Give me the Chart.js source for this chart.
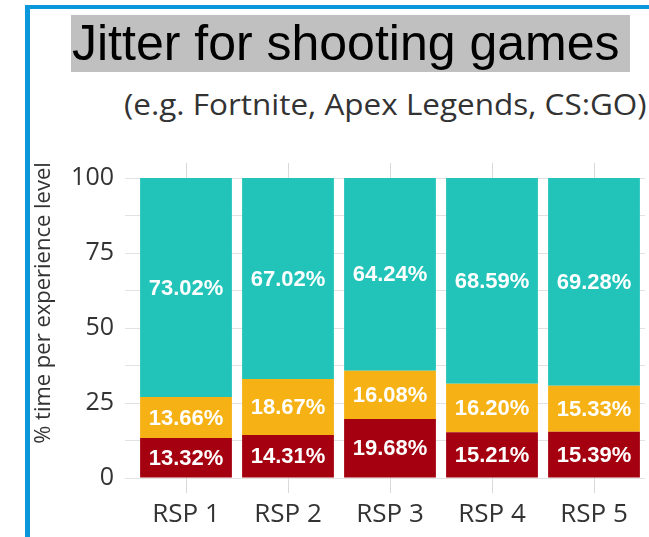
<!DOCTYPE html>
<html>
<head>
<meta charset="utf-8">
<script src="https://cdn.jsdelivr.net/npm/chart.js@4"></script>
<style>
  html, body { margin: 0; padding: 0; background: #fff; overflow: hidden; }
  #wrap { position: relative; width: 649px; height: 537px; overflow: hidden; }
  #frame { position: absolute; left: 25px; top: 5px; width: 700px; height: 600px;
           border-left: 5px solid #0a97db; border-top: 4px solid #0a97db; }
  #title { position: absolute; left: 71px; top: 15px; width: 558px; height: 57px;
           background: #c0c0c0; font-family: "Liberation Sans", Arial, sans-serif;
           font-size: 50px; line-height: 57px; color: #000; padding-left: 1px; white-space: nowrap; }
  #subtitle { position: absolute; left: 124px; top: 84px; font-family: "Open Sans", sans-serif;
              font-size: 29px; color: #333; white-space: nowrap;
              transform: scaleX(1.085); transform-origin: left top; }
  canvas { position: absolute; left: 0; top: 0; }
</style>
</head>
<body>
<div id="wrap">
  <div id="frame"></div>
  <div id="title">Jitter for shooting games</div>
  <div id="subtitle">(e.g. Fortnite, Apex Legends, CS:GO)</div>
  <canvas id="chartjs-0" width="649" height="537"></canvas>
</div>
<script>
"use strict";

var categories = ["RSP 1", "RSP 2", "RSP 3", "RSP 4", "RSP 5"];
var redValues = [13.32, 14.31, 19.68, 15.21, 15.39];
var orangeValues = [13.66, 18.67, 16.08, 16.20, 15.33];
var tealValues = [73.02, 67.02, 64.24, 68.59, 69.28];
var yTicks = [0, 12.5, 25, 37.5, 50, 62.5, 75, 87.5, 100];
var yTitle = "% time per experience level";

/* white percentage labels in the middle of each segment */
var segmentLabels = {
  id: "segmentLabels",
  afterDatasetsDraw: function (chart) {
    var ctx = chart.ctx;
    ctx.save();
    ctx.font = "bold 22px 'Liberation Sans', Arial, sans-serif";
    ctx.fillStyle = "#ffffff";
    ctx.textAlign = "center";
    ctx.textBaseline = "middle";
    chart.data.datasets.forEach(function (ds, i) {
      var meta = chart.getDatasetMeta(i);
      meta.data.forEach(function (bar, j) {
        var y = (bar.y + bar.base) / 2 + 1;
        ctx.fillText(ds.data[j].toFixed(2) + "%", bar.x, y);
      });
    });
    ctx.restore();
  }
};

/* rotated y axis title */
var axisTitle = {
  id: "axisTitle",
  afterDraw: function (chart) {
    var ctx = chart.ctx;
    ctx.save();
    ctx.translate(44, 303);
    ctx.rotate(-Math.PI / 2);
    ctx.font = "22px 'Open Sans', sans-serif";
    ctx.fillStyle = "#333";
    ctx.textAlign = "center";
    ctx.textBaseline = "middle";
    ctx.fillText(yTitle, 0, 0);
    ctx.restore();
  }
};

var ctx0 = document.getElementById("chartjs-0");
var myChart = new Chart(ctx0, {
  type: "bar",
  data: {
    labels: categories,
    datasets: [
      { label: "red", data: redValues, backgroundColor: "#a5000f" },
      { label: "orange", data: orangeValues, backgroundColor: "#f6b214" },
      { label: "teal", data: tealValues, backgroundColor: "#22c4b9" }
    ]
  },
  options: {
    responsive: false,
    devicePixelRatio: 1,
    animation: false,
    events: [],
    layout: { padding: { top: 163, right: 4, bottom: 0, left: 0 } },
    datasets: { bar: { barPercentage: 0.9, categoryPercentage: 1.0, borderWidth: 0 } },
    plugins: { legend: { display: false }, tooltip: { enabled: false } },
    scales: {
      x: {
        stacked: true,
        border: { display: false },
        grid: { offset: false, color: "#d9d9d9", tickLength: 15 },
        ticks: { color: "#333", padding: 6, font: { family: "'Open Sans', sans-serif", size: 26 } },
        afterFit: function (scale) { scale.height = 59; }
      },
      y: {
        stacked: true,
        min: 0,
        max: 105,
        border: { display: false },
        grid: { color: "#e2e2e2", tickLength: 10 },
        afterBuildTicks: function (scale) {
          scale.ticks = yTicks.map(function (v) { return { value: v }; });
        },
        ticks: {
          color: "#333",
          padding: 11,
          font: { family: "'Open Sans', sans-serif", size: 25 },
          callback: function (v) { return v % 25 === 0 ? v : ""; }
        },
        afterFit: function (scale) { scale.width = 135; }
      }
    }
  },
  plugins: [segmentLabels, axisTitle]
});
</script>
</body>
</html>
